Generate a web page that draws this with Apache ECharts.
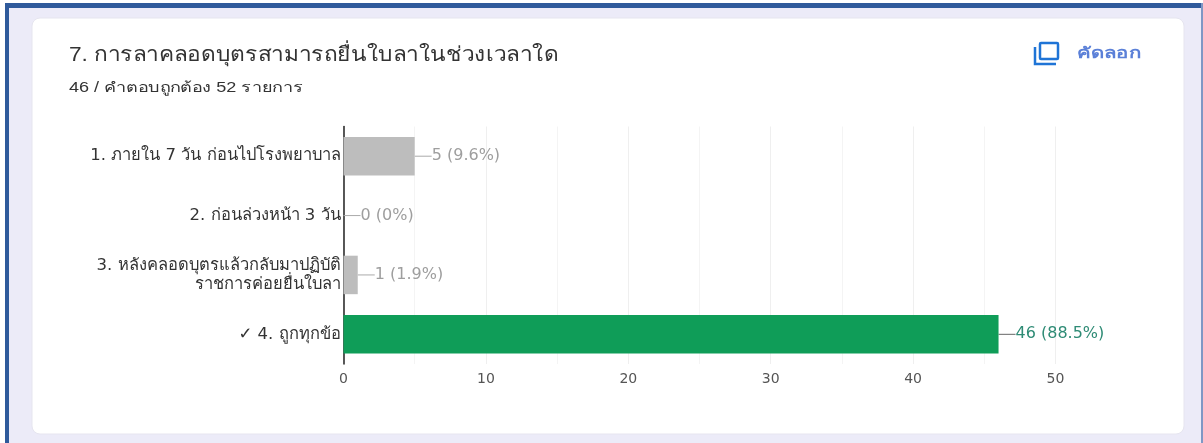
<!DOCTYPE html>
<html><head><meta charset="utf-8">
<style>
html,body{margin:0;padding:0;width:1203px;height:443px;overflow:hidden;background:#fff}
#c{position:absolute;left:0;top:0;width:1203px;height:443px}
</style>
<script src="https://cdn.jsdelivr.net/npm/echarts@6/dist/echarts.min.js"></script>
</head><body><div id="c"></div>
<script>
const categories = ['1. ภายใน 7 วัน ก่อนไปโรงพยาบาล','2. ก่อนล่วงหน้า 3 วัน','3. หลังคลอดบุตรแล้วกลับมาปฏิบัติ\nราชการค่อยยื่นใบลา','✓ 4. ถูกทุกข้อ'];
const counts = [5,0,1,46];
const percents = ['9.6%','0%','1.9%','88.5%'];
const correctIndex = 3;
const titleText = '7. การลาคลอดบุตรสามารถยื่นใบลาในช่วงเวลาใด';
const subtitleText = '46 / คำตอบถูกต้อง 52 รายการ';
const copyText = 'คัดลอก';
const FONT = '"Liberation Sans", Arial, "Noto Sans", sans-serif';
const WIDE = '"DejaVu Sans", "Liberation Sans", sans-serif';
const stretched = (x,y,sx,style) => ({type:'text',z:5,x:x,y:y,scaleX:sx,style:Object.assign({x:0,y:0,verticalAlign:'middle'},style)});
const chart = echarts.init(document.getElementById('c'),null,{renderer:'canvas'});
chart.setOption({
  animation:false,
  backgroundColor:'#ffffff',
  graphic:[
    {type:'rect',z:-11,shape:{x:9,y:8,width:1192,height:435},style:{fill:'#ecebf8'}},
    {type:'rect',z:-10,shape:{x:5,y:3,width:1198,height:5},style:{fill:'#2f5a9b'}},
    {type:'rect',z:-10,shape:{x:5,y:3,width:4,height:440},style:{fill:'#2f5a9b'}},
    {type:'rect',z:-10,shape:{x:1201,y:3,width:2,height:440},style:{fill:'#7f97c4'}},
    {type:'rect',z:-9,shape:{x:32,y:18,width:1152,height:416,r:8},style:{fill:'#ffffff',stroke:'#e6e5ef',lineWidth:1}},
    stretched(69,55,1.135,{text:titleText,font:'20px '+FONT,fill:'#333'}),
    stretched(69,88,1.29,{text:subtitleText,font:'14px '+FONT,fill:'#333'}),
    stretched(1077,54,1.36,{text:copyText,font:'bold 15px '+FONT,fill:'#5b80d8'}),
    {type:'rect',z:5,shape:{x:1040,y:43,width:18,height:16,r:1},style:{fill:'none',stroke:'#1f74d6',lineWidth:2.5}},
    {type:'polyline',z:5,shape:{points:[[1035,47],[1035,64],[1056,64]]},style:{fill:'none',stroke:'#1f74d6',lineWidth:2.5}}
  ],
  grid:{left:343.5,top:126.5,width:712,height:237.5,containLabel:false},
  xAxis:{type:'value',min:0,max:50,interval:10,
    axisLine:{show:false},axisTick:{show:false},
    axisLabel:{color:'#555',fontSize:14,fontFamily:WIDE,margin:8},
    splitLine:{show:true,lineStyle:{color:'#efefef'}},
    minorTick:{show:false,splitNumber:2},
    minorSplitLine:{show:true,lineStyle:{color:'#f4f4f4'}}},
  yAxis:{type:'category',inverse:true,data:categories,
    axisLine:{show:true,onZero:false,lineStyle:{color:'#222',width:1.5}},
    axisTick:{show:false},
    axisLabel:{color:'#333',fontSize:16.5,fontFamily:WIDE,margin:3,lineHeight:19,align:'right'}},
  series:[{type:'bar',barWidth:38.5,
    data:counts.map((v,i)=>({value:v,
      itemStyle:{color:i===correctIndex?'#0f9d58':'#bdbdbd'},
      label:{color:i===correctIndex?'#2e8b75':'#9e9e9e'},
      labelLine:{lineStyle:{color:i===correctIndex?'#666':'#aaa'}}})),
    label:{show:true,position:'right',distance:0,fontSize:16,fontFamily:WIDE,
      formatter:p=>counts[p.dataIndex]+' ('+percents[p.dataIndex]+')'},
    labelLayout:{dx:17},
    labelLine:{show:true,lineStyle:{width:1}}
  }]
});
</script></body></html>
